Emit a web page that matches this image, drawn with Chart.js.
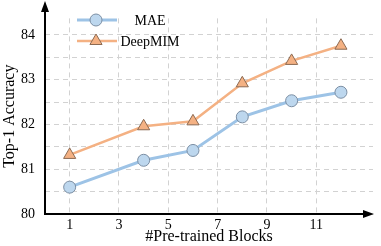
<!DOCTYPE html>
<html>
<head>
<meta charset="utf-8">
<script src="https://cdn.jsdelivr.net/npm/chart.js@4/dist/chart.umd.min.js"></script>
<style>
  html, body { margin: 0; padding: 0; background: #fff; }
  canvas { display: block; }
</style>
</head>
<body>
<canvas id="miGrafico" width="381" height="246"></canvas>
<script>
// pre-trained blocks (x) and top-1 accuracy for each model
const blocks = [1, 4, 6, 8, 10, 12];
const maeAcc = [80.6, 81.2, 81.42, 82.17, 82.53, 82.72];
const deepmimAcc = [81.32, 81.96, 82.07, 82.92, 83.42, 83.76];
const xTicks = [1, 3, 5, 7, 9, 11];
const yTicks = [80, 80.5, 81, 81.5, 82, 82.5, 83, 83.5, 84];

const serif = '"Liberation Serif", "Times New Roman", serif';

const toPoints = (xs, ys) => xs.map((x, i) => ({ x: x, y: ys[i] }));

// axis lines with arrow heads + legend drawn by hand
const extras = {
    id: 'extras',
    afterDraw(chart) {
        const c = chart.ctx;
        const a = chart.chartArea;
        c.save();
        c.strokeStyle = '#000';
        c.fillStyle = '#000';
        c.lineWidth = 2;
        // y axis
        c.beginPath();
        c.moveTo(a.left, a.bottom + 1);
        c.lineTo(a.left, 10);
        c.stroke();
        c.beginPath();
        c.moveTo(a.left, 1);
        c.lineTo(a.left - 4, 12);
        c.lineTo(a.left + 4, 12);
        c.closePath();
        c.fill();
        // x axis
        c.beginPath();
        c.moveTo(a.left - 1, a.bottom);
        c.lineTo(a.right - 8, a.bottom);
        c.stroke();
        c.beginPath();
        c.moveTo(a.right + 1, a.bottom);
        c.lineTo(a.right - 10, a.bottom - 4);
        c.lineTo(a.right - 10, a.bottom + 4);
        c.closePath();
        c.fill();

        // legend
        const items = [
            { label: 'MAE', ds: chart.data.datasets[0], y: 20 },
            { label: 'DeepMIM', ds: chart.data.datasets[1], y: 41 }
        ];
        items.forEach(it => {
            c.strokeStyle = it.ds.borderColor;
            c.lineWidth = it.ds.borderWidth;
            c.beginPath();
            c.moveTo(77, it.y);
            c.lineTo(117, it.y);
            c.stroke();
            c.fillStyle = it.ds.pointBackgroundColor;
            c.strokeStyle = it.ds.pointBorderColor;
            c.lineWidth = 1;
            c.beginPath();
            const r = it.ds.pointRadius;
            if (it.ds.pointStyle === 'circle') {
                c.arc(96, it.y, r, 0, Math.PI * 2);
            } else {
                c.moveTo(96, it.y - r);
                c.lineTo(96 + r * 0.866, it.y + r * 0.5);
                c.lineTo(96 - r * 0.866, it.y + r * 0.5);
                c.closePath();
            }
            c.fill();
            c.stroke();
            c.fillStyle = '#000';
            c.font = '14px ' + serif;
            c.textAlign = 'center';
            c.textBaseline = 'middle';
            c.fillText(it.label, 150, it.y + 1);
        });
        c.restore();
    }
};

const ctx = document.querySelector('#miGrafico').getContext('2d');

const miGrafico = new Chart(ctx, {
    type: 'line',
    data: {
        datasets: [{
            label: 'MAE',
            data: toPoints(blocks, maeAcc),
            borderColor: '#9dc3e6',
            borderWidth: 3,
            pointStyle: 'circle',
            pointRadius: 6,
            pointBackgroundColor: '#bdd7ee',
            pointBorderColor: '#7b8ea3',
            pointBorderWidth: 1
        }, {
            label: 'DeepMIM',
            data: toPoints(blocks, deepmimAcc),
            borderColor: '#f4b183',
            borderWidth: 2.5,
            pointStyle: 'triangle',
            pointRadius: 7,
            pointBackgroundColor: '#f4b183',
            pointBorderColor: '#8c6a52',
            pointBorderWidth: 1
        }]
    },
    options: {
        responsive: false,
        animation: false,
        layout: { padding: { left: 0, right: 3, top: 13, bottom: 0 } },
        plugins: {
            legend: { display: false },
            tooltip: { enabled: false }
        },
        scales: {
            x: {
                type: 'linear',
                min: 0,
                max: 13.3,
                afterBuildTicks: s => { s.ticks = xTicks.map(v => ({ value: v })); },
                afterFit: s => { s.height = 32; },
                border: { display: false, dash: [5, 4] },
                grid: { color: '#d2d2d2', drawTicks: false },
                ticks: { color: '#000', font: { family: serif, size: 14 }, padding: 3, maxRotation: 0 },
                title: { display: true, text: '#Pre-trained Blocks', color: '#000', font: { family: serif, size: 16 }, padding: 0 }
            },
            y: {
                min: 80,
                max: 84.37,
                afterBuildTicks: s => { s.ticks = yTicks.map(v => ({ value: v })); },
                afterFit: s => { s.width = 45; },
                border: { display: false, dash: [5, 4] },
                grid: { color: '#d2d2d2', drawTicks: false },
                ticks: {
                    color: '#000',
                    font: { family: serif, size: 14 },
                    padding: 10,
                    callback: v => Number.isInteger(v) ? String(v) : ''
                },
                title: { display: true, text: 'Top-1 Accuracy', color: '#000', font: { family: serif, size: 16 }, padding: 0 }
            }
        }
    },
    plugins: [extras]
});
</script>
</body>
</html>
